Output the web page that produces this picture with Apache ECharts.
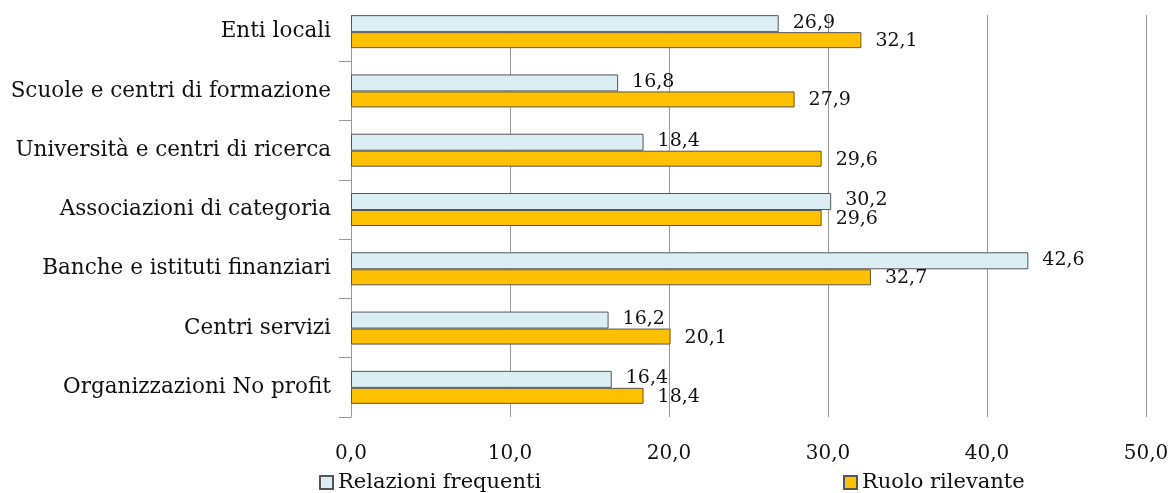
<!DOCTYPE html>
<html>
<head>
<meta charset="utf-8">
<script src="https://cdn.jsdelivr.net/npm/echarts@6/dist/echarts.min.js"></script>
<style>
  html, body { margin: 0; padding: 0; background: #fff; }
  #chart { width: 1172px; height: 493px; }
</style>
</head>
<body>
<div id="chart"></div>
<script>
// Categories (top to bottom)
const categories = [
  'Enti locali',
  'Scuole e centri di formazione',
  'Università e centri di ricerca',
  'Associazioni di categoria',
  'Banche e istituti finanziari',
  'Centri servizi',
  'Organizzazioni No profit'
];
const relazioniFrequenti = [26.9, 16.8, 18.4, 30.2, 42.6, 16.2, 16.4];
const ruoloRilevante = [32.1, 27.9, 29.6, 29.6, 32.7, 20.1, 18.4];
const seriesNames = ['Relazioni frequenti', 'Ruolo rilevante'];

const FONT = 'DejaVu Serif';
const INK = '#111';
const fmt = v => v.toFixed(1).replace('.', ',');

const chart = echarts.init(document.getElementById('chart'));
chart.setOption({
  animation: false,
  textStyle: { fontFamily: FONT },
  grid: { left: 351, right: 26, top: 2, bottom: 76 },
  // plot area frame is trimmed at the top edge so gridlines begin at the first bar
  graphic: [{
    type: 'rect', z: 1, silent: true,
    shape: { x: 336, y: 0, width: 836, height: 15 },
    style: { fill: '#fff' }
  }],
  legend: [
    {
      data: [seriesNames[0]], left: 314, top: 467, itemWidth: 13, itemHeight: 13, itemGap: 6,
      icon: 'rect', textStyle: { fontFamily: FONT, fontSize: 21, color: INK }
    },
    {
      data: [seriesNames[1]], left: 838, top: 467, itemWidth: 13, itemHeight: 13,
      icon: 'rect', textStyle: { fontFamily: FONT, fontSize: 21, color: INK }
    }
  ],
  xAxis: {
    type: 'value', min: 0, max: 50, interval: 10,
    axisLine: { show: false }, axisTick: { show: false },
    splitLine: { show: true, lineStyle: { color: '#999', width: 1 } },
    axisLabel: { formatter: fmt, fontFamily: FONT, fontSize: 20, color: INK, margin: 27 }
  },
  yAxis: {
    type: 'category', data: categories, inverse: true,
    axisLine: { show: true, lineStyle: { color: '#999', width: 1 } },
    axisTick: { show: true, length: 12, lineStyle: { color: '#999' } },
    axisLabel: { fontFamily: FONT, fontSize: 21.5, color: INK, margin: 20 }
  },
  series: [
    {
      name: seriesNames[0], type: 'bar', data: relazioniFrequenti,
      barWidth: 17, barGap: '0%',
      itemStyle: { color: '#DAEEF3', borderColor: '#555', borderWidth: 1 },
      label: { show: true, position: 'right', formatter: p => fmt(p.value),
               fontFamily: FONT, fontSize: 19, color: INK, distance: 14, offset: [0, -1] }
    },
    {
      name: seriesNames[1], type: 'bar', data: ruoloRilevante,
      barWidth: 16,
      itemStyle: { color: '#FFC000', borderColor: '#555', borderWidth: 1 },
      label: { show: true, position: 'right', formatter: p => fmt(p.value),
               fontFamily: FONT, fontSize: 19, color: INK, distance: 14, offset: [0, 1] }
    }
  ]
});
</script>
</body>
</html>
